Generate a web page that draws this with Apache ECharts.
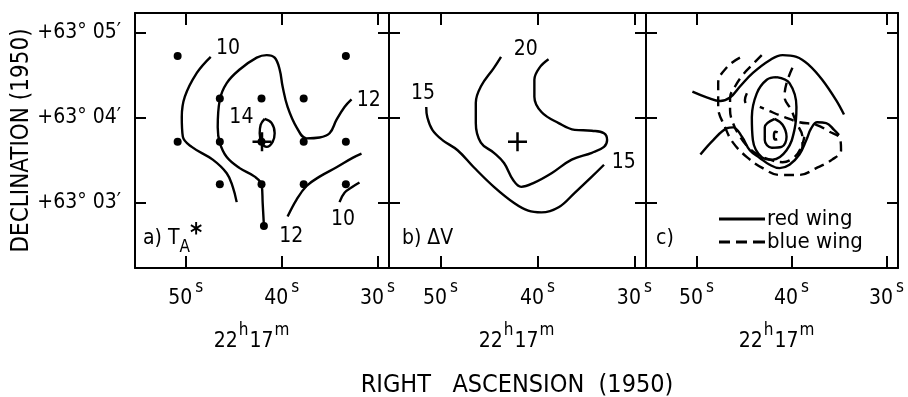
<!DOCTYPE html>
<html>
<head>
<meta charset="utf-8">
<script src="https://cdn.jsdelivr.net/npm/echarts@6/dist/echarts.min.js"></script>
<style>
html, body { margin: 0; padding: 0; background: #fff; }
#chart { width: 908px; height: 397px; }
</style>
</head>
<body>
<div id="chart"></div>
<script>
// RA = seconds after 22h17m, Dec = arcmin after +63 deg
var raTicks = [30, 40, 50];
var decTicks = [3, 4, 5];
var raRange = [28.8, 55.3];
var decRange = [2.235, 5.235];

// a) T_A* : observed positions and contours
var obsPoints = [
    [50.85, 4.73], [33.3, 4.73],
    [46.45, 4.23], [42.1, 4.23], [37.7, 4.23],
    [50.85, 3.72], [46.45, 3.72], [42.1, 3.72], [37.7, 3.72], [33.3, 3.72],
    [46.45, 3.22], [42.1, 3.22], [37.7, 3.22], [33.3, 3.22],
    [41.85, 2.73]
];
var centre = [[42.05, 3.72]];
var ta10West = [[47.40,4.72],[48.85,4.53],[50.10,4.25],[50.42,4.01],[50.31,3.78],[49.38,3.66],[47.19,3.51],[45.73,3.35],[45.10,3.19],[44.69,3.01]];
var ta12Main = [[41.85,2.73],[41.98,3.00],[42.08,3.21],[42.81,3.31],[44.38,3.41],[45.73,3.54],[46.46,3.71],[46.67,3.89],[46.46,4.21],[45.73,4.41],[44.38,4.57],[42.60,4.71],[41.56,4.74],[40.73,4.71],[40.21,4.57],[39.90,4.37],[39.38,4.13],[38.44,3.89],[37.40,3.76],[36.04,3.77],[35.00,3.82],[34.27,3.98],[33.44,4.13],[32.71,4.22]];
var ta12SE = [[39.38,2.84],[38.44,3.04],[37.40,3.20],[36.04,3.31],[34.27,3.42],[32.60,3.53],[31.67,3.58]];
var ta10SE = [[33.96,3.01],[33.44,3.12],[32.60,3.19],[31.88,3.24]];
var ta14 = [[41.77,3.99],[41.04,3.94],[40.73,3.82],[40.94,3.72],[41.56,3.66],[42.08,3.71],[42.29,3.82],[42.19,3.92],[41.77,3.99]];
var labelsA = [['10', 45.6, 4.82], ['12', 30.9, 4.21], ['14', 44.2, 4.0], ['12', 39.0, 2.6], ['10', 33.6, 2.8]];

// b) delta V contours
var dv15 = [[51.46,4.13],[51.35,4.01],[50.83,3.86],[49.79,3.74],[48.23,3.62],[46.56,3.42],[44.48,3.19],[42.40,3.00],[40.94,2.91],[39.58,2.89],[37.81,2.95],[36.15,3.12],[34.38,3.31],[33.13,3.45]];
var dv20 = [[43.75,4.72],[44.48,4.59],[45.83,4.37],[46.35,4.18],[46.35,3.94],[45.83,3.71],[44.48,3.59],[43.44,3.47],[42.50,3.27],[41.67,3.19],[40.31,3.24],[38.54,3.35],[36.46,3.51],[34.38,3.59],[33.13,3.66],[32.81,3.74],[33.13,3.82],[34.38,3.85],[36.15,3.86],[37.81,3.94],[39.58,4.07],[40.31,4.25],[40.31,4.45],[39.79,4.59],[38.85,4.69]];
var labelsB = [['15', 51.8, 4.29], ['20', 41.2, 4.8], ['15', 31.1, 3.48]];

// c) line wings
var redOuter = [[50.42,4.31],[48.85,4.24],[47.50,4.20],[46.46,4.24],[45.42,4.37],[44.06,4.53],[42.29,4.68],[40.94,4.74],[39.48,4.72],[38.13,4.62],[36.77,4.45],[35.31,4.21],[34.48,4.04]];
var redLower = [[49.58,3.57],[48.23,3.74],[46.77,3.88],[46.15,3.89],[45.21,3.78],[44.38,3.62],[43.33,3.53],[42.29,3.45],[41.25,3.41],[40.21,3.45],[39.17,3.57],[38.44,3.74],[37.92,3.88],[37.29,3.95],[36.35,3.94],[35.52,3.86],[35.00,3.80]];
var redEllipse = [[41.56,4.48],[40.21,4.41],[39.48,4.13],[39.69,3.86],[40.52,3.62],[41.98,3.51],[43.13,3.54],[44.06,3.74],[44.17,4.01],[43.65,4.29],[42.60,4.45],[41.56,4.48]];
var redInner = [[41.77,3.99],[40.94,3.92],[40.52,3.78],[41.04,3.66],[42.08,3.65],[42.81,3.74],[42.81,3.89],[41.77,3.99]];
var redCore = [[41.45,3.83],[41.70,3.84],[41.85,3.79],[41.72,3.745],[41.50,3.75]];
var blueOuter = [[45.42,4.71],[46.77,4.60],[47.71,4.41],[47.71,4.13],[46.98,3.89],[46.15,3.71],[44.69,3.54],[43.02,3.41],[41.25,3.33],[39.17,3.33],[37.40,3.41],[35.73,3.51],[34.79,3.62],[34.90,3.76],[36.04,3.84],[37.40,3.92],[39.17,3.95],[40.73,4.01],[42.29,4.08],[43.33,4.13]];
var blueMid = [[43.13,4.74],[44.17,4.62],[45.10,4.51],[45.94,4.37],[46.46,4.24],[46.46,4.09],[46.15,3.94],[45.42,3.78],[44.58,3.66],[43.54,3.57],[42.29,3.51],[40.94,3.48],[39.69,3.54],[38.96,3.66],[38.65,3.78]];
var blueEast = [[39.90,4.59],[40.52,4.41],[40.73,4.25],[40.00,4.09],[39.48,3.94],[38.85,3.78],[38.85,3.66],[39.48,3.57]];
var blueNub = [[44.69,4.29],[44.90,4.21],[44.58,4.13]];

var FONT = '"DejaVu Sans Condensed", "Liberation Sans Narrow", "DejaVu Sans", sans-serif';
var chartDom = document.getElementById('chart');
var myChart = echarts.init(chartDom);

var grids = [
    {left: 135, top: 13, width: 254, height: 255},
    {left: 389, top: 13, width: 257, height: 255},
    {left: 646, top: 13, width: 253, height: 255}
];

function xAx(gi, pos) {
    return {
        type: 'value', gridIndex: gi, position: pos, inverse: true,
        min: raRange[0], max: raRange[1],
        splitLine: {show: false},
        axisLine: {show: true, onZero: false, lineStyle: {color: '#000', width: 2}},
        axisTick: {show: true, inside: true, length: 12, customValues: raTicks, lineStyle: {color: '#000', width: 2}},
        axisLabel: {
            show: pos == 'bottom', customValues: raTicks, margin: 11,
            formatter: function (v) { return '{n|' + v + '}{s|s}'; },
            rich: {
                n: {fontFamily: FONT, fontSize: 21, color: '#000', lineHeight: 30, verticalAlign: 'bottom'},
                s: {fontFamily: FONT, fontSize: 17, color: '#000', lineHeight: 16, verticalAlign: 'top', padding: [0, 0, 0, 3]}
            }
        }
    };
}
function yAx(gi, pos) {
    var showLab = gi == 0 && pos == 'left';
    return {
        type: 'value', gridIndex: gi, position: pos,
        min: decRange[0], max: decRange[1],
        name: showLab ? 'DECLINATION (1950)' : '',
        nameLocation: 'middle', nameRotate: 90, nameGap: 101,
        nameTextStyle: {fontFamily: FONT, fontSize: 24, color: '#000'},
        splitLine: {show: false},
        axisLine: {show: true, onZero: false, lineStyle: {color: '#000', width: 2}},
        axisTick: {show: true, inside: true, length: 11, customValues: decTicks, lineStyle: {color: '#000', width: 2}},
        axisLabel: {
            show: showLab, customValues: decTicks, margin: 14,
            fontFamily: FONT, fontSize: 21, color: '#000',
            formatter: function (v) { return '+63\u00b0 0' + v + '\u2032'; }
        }
    };
}

function contour(data, gi, name, dashed) {
    return {
        type: 'line', name: name, xAxisIndex: 2 * gi, yAxisIndex: 2 * gi,
        data: data, smooth: 0.4, symbol: 'none', silent: true, z: 3,
        lineStyle: {color: '#000', width: 2.4, type: dashed ? [10, 6] : 'solid'},
        itemStyle: {color: '#000'}
    };
}
function textMarks(list, gi) {
    return {
        type: 'scatter', xAxisIndex: 2 * gi, yAxisIndex: 2 * gi, symbolSize: 1, silent: true,
        itemStyle: {color: 'transparent', opacity: 1},
        data: list.map(function (l) { return {name: l[0], value: [l[1], l[2]]}; }),
        label: {show: true, position: 'inside', formatter: '{b}', fontFamily: FONT, fontSize: 21, color: '#000', opacity: 1}
    };
}
function cross(gi) {
    return {
        type: 'scatter', xAxisIndex: 2 * gi, yAxisIndex: 2 * gi, data: centre, silent: true,
        symbol: 'path://M0,10L20,10M10,0L10,20', symbolSize: 19, z: 4,
        itemStyle: {color: 'transparent', borderColor: '#000', borderWidth: 2.5, opacity: 1}
    };
}

var series = [
    {type: 'scatter', xAxisIndex: 0, yAxisIndex: 0, data: obsPoints, symbolSize: 8, silent: true, itemStyle: {color: '#000', opacity: 1}},
    cross(0),
    contour(ta10West, 0), contour(ta12Main, 0), contour(ta12SE, 0), contour(ta10SE, 0), contour(ta14, 0),
    textMarks(labelsA, 0),
    cross(1),
    contour(dv15, 1), contour(dv20, 1),
    textMarks(labelsB, 1),
    contour(redOuter, 2, 'red wing'), contour(redLower, 2, 'red wing'), contour(redEllipse, 2, 'red wing'),
    contour(redInner, 2, 'red wing'), contour(redCore, 2, 'red wing'),
    contour(blueOuter, 2, 'blue wing', true), contour(blueMid, 2, 'blue wing', true),
    contour(blueEast, 2, 'blue wing', true), contour(blueNub, 2, 'blue wing', true)
];

var hmRich = {
    n: {fontFamily: FONT, fontSize: 21, color: '#000', lineHeight: 30, verticalAlign: 'bottom'},
    s: {fontFamily: FONT, fontSize: 17, color: '#000', lineHeight: 16, verticalAlign: 'top', padding: [0, 1, 0, 1]}
};
function hmText(cx) {
    return {type: 'text', x: cx, y: 322, style: {text: '{n|22}{s|h}{n|17}{s|m}', align: 'center', verticalAlign: 'top', rich: hmRich}};
}
var panelRich = {
    t: {fontFamily: FONT, fontSize: 21, color: '#000', lineHeight: 34, verticalAlign: 'middle'},
    sub: {fontFamily: FONT, fontSize: 17, color: '#000', lineHeight: 16, verticalAlign: 'bottom'},
    sup: {fontFamily: FONT, fontSize: 26, color: '#000', lineHeight: 22, verticalAlign: 'top', fontWeight: 'bold'}
};

var option = {
    animation: false,
    backgroundColor: '#fff',
    grid: grids,
    xAxis: [xAx(0, 'bottom'), xAx(0, 'top'), xAx(1, 'bottom'), xAx(1, 'top'), xAx(2, 'bottom'), xAx(2, 'top')],
    yAxis: [yAx(0, 'left'), yAx(0, 'right'), yAx(1, 'left'), yAx(1, 'right'), yAx(2, 'left'), yAx(2, 'right')],
    legend: {
        data: [
            {name: 'red wing', icon: 'path://M0,0H46V3H0Z'},
            {name: 'blue wing', icon: 'path://M0,0H11V3H0ZM17,0H28V3H17ZM34,0H46V3H34Z'}
        ],
        orient: 'vertical', left: 714, top: 203,
        itemWidth: 46, itemHeight: 3, itemGap: 1, selectedMode: false,
        itemStyle: {color: '#000'},
        textStyle: {fontFamily: FONT, fontSize: 22, color: '#000', padding: [0, 0, 0, -3]}
    },
    graphic: [
        {type: 'text', x: 143, y: 222, style: {text: '{t|a) T}{sub|A}{sup|*}', rich: panelRich}},
        {type: 'text', x: 402, y: 222, style: {text: '{t|b) \u0394V}', rich: panelRich}},
        {type: 'text', x: 656, y: 222, style: {text: '{t|c)}', rich: panelRich}},
        hmText(252), hmText(517), hmText(777),
        {type: 'text', x: 517, y: 385, style: {text: 'RIGHT   ASCENSION  (1950)', align: 'center', verticalAlign: 'middle', fontFamily: FONT, fontSize: 25, fill: '#000'}}
    ],
    series: series
};
myChart.setOption(option);
</script>
</body>
</html>
